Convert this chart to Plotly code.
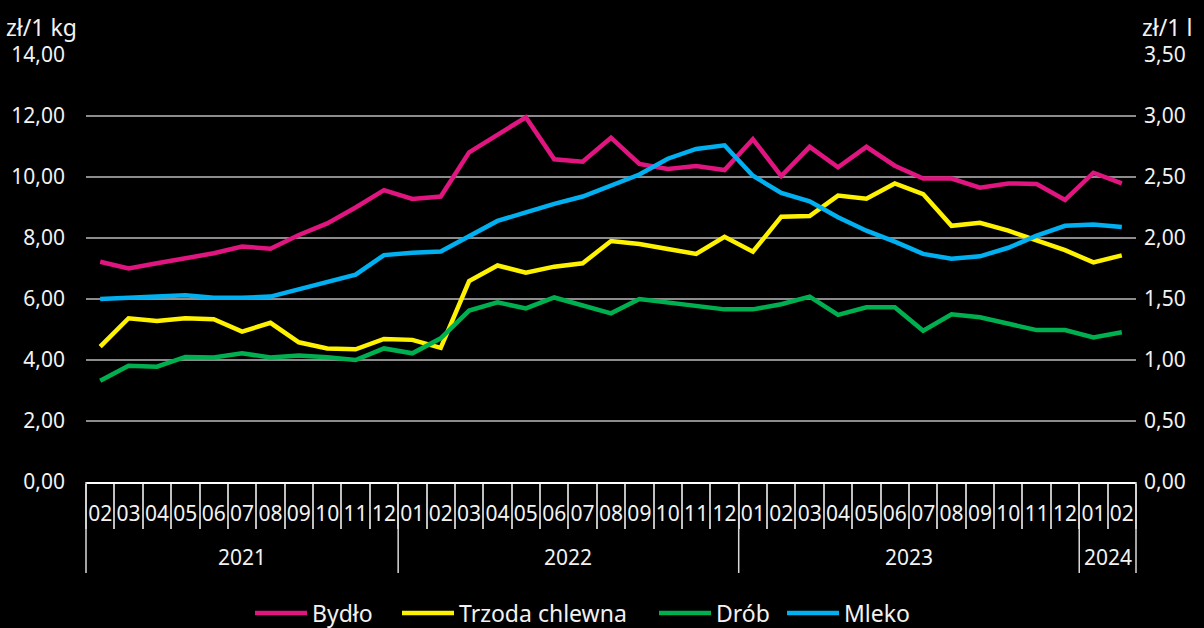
import plotly.graph_objects as go

years = ["2021"] * 11 + ["2022"] * 12 + ["2023"] * 12 + ["2024"] * 2
months = ["02", "03", "04", "05", "06", "07", "08", "09", "10", "11", "12",
          "01", "02", "03", "04", "05", "06", "07", "08", "09", "10", "11", "12",
          "01", "02", "03", "04", "05", "06", "07", "08", "09", "10", "11", "12",
          "01", "02"]

bydlo = [7.22, 7.00, 7.17, 7.33, 7.50, 7.72, 7.65, 8.10, 8.48, 9.00, 9.57,
         9.28, 9.36, 10.81, 11.38, 11.96, 10.58, 10.50, 11.29, 10.43, 10.26, 10.36, 10.23,
         11.24, 10.03, 10.99, 10.32, 10.99, 10.37, 9.95, 9.95, 9.65, 9.79, 9.77, 9.25,
         10.14, 9.79]

trzoda = [4.44, 5.37, 5.28, 5.37, 5.34, 4.93, 5.22, 4.58, 4.38, 4.35, 4.69,
          4.66, 4.40, 6.59, 7.10, 6.86, 7.06, 7.17, 7.90, 7.80, 7.64, 7.48, 8.04,
          7.55, 8.70, 8.72, 9.39, 9.29, 9.79, 9.44, 8.40, 8.50, 8.24, 7.93, 7.60,
          7.20, 7.43]

drob = [3.32, 3.81, 3.78, 4.10, 4.08, 4.22, 4.08, 4.15, 4.09, 4.00, 4.38,
        4.22, 4.71, 5.62, 5.89, 5.69, 6.05, 5.78, 5.53, 6.00, 5.89, 5.80, 5.66,
        5.66, 5.83, 6.08, 5.48, 5.73, 5.73, 4.96, 5.50, 5.40, 5.20, 4.98, 4.98,
        4.74, 4.91]

mleko = [1.50, 1.51, 1.52, 1.53, 1.51, 1.51, 1.52, 1.58, 1.64, 1.70, 1.86,
         1.88, 1.89, 2.01, 2.14, 2.21, 2.28, 2.34, 2.43, 2.52, 2.65, 2.73, 2.76,
         2.51, 2.37, 2.30, 2.17, 2.06, 1.97, 1.87, 1.83, 1.85, 1.92, 2.02, 2.10,
         2.11, 2.09]

left_ticks = [0, 2, 4, 6, 8, 10, 12, 14]
right_ticks = [0, 0.5, 1.0, 1.5, 2.0, 2.5, 3.0, 3.5]

n = len(months)
x = list(range(n))
W = 4.5
FONT = "Noto Sans"
TXT = "#F2F2F2"

# plot area geometry (pixels)
L, R, T, B = 86, 1136, 55, 482
PW, PH = R - L, B - T

fig = go.Figure()
series = [("Bydło", bydlo, "#E0157F", "y", "legend"),
          ("Trzoda chlewna", trzoda, "#FFF200", "y", "legend2"),
          ("Drób", drob, "#00B050", "y", "legend3"),
          ("Mleko", mleko, "#00B0F0", "y2", "legend4")]
for name, vals, col, ya, lg in series:
    fig.add_trace(go.Scatter(x=x, y=vals, name=name, mode="lines", yaxis=ya, legend=lg,
                             line=dict(color=col, width=W)))

# year group boundaries and centers
bounds = [-0.5]
for i in range(1, n):
    if years[i] != years[i - 1]:
        bounds.append(i - 0.5)
bounds.append(n - 0.5)

shapes = []
for b in bounds:
    xp = (b + 0.5) / n
    shapes.append(dict(type="line", xref="paper", yref="paper", x0=xp, x1=xp,
                       y0=0, y1=-(573 - B) / PH, line=dict(color="#D9D9D9", width=1.5)))

annotations = []
for k in range(len(bounds) - 1):
    c = (bounds[k] + bounds[k + 1]) / 2
    yr = years[int(bounds[k] + 0.5)]
    annotations.append(dict(text=yr, xref="x", yref="paper", x=c, y=-(557 - B) / PH,
                            xanchor="center", yanchor="middle", showarrow=False,
                            font=dict(size=21, color=TXT)))

annotations += [
    dict(text="zł/1 kg", xref="paper", yref="paper", x=(4 - L) / PW, y=(B - 27) / PH,
         xanchor="left", yanchor="middle", showarrow=False, font=dict(size=23, color=TXT)),
    dict(text="zł/1 l", xref="paper", yref="paper", x=(1140 - L) / PW, y=(B - 27) / PH,
         xanchor="left", yanchor="middle", showarrow=False, font=dict(size=23, color=TXT)),
]

leg_x = [250, 397, 654, 782]
legends = {}
for i, px in enumerate(leg_x):
    key = "legend" if i == 0 else f"legend{i + 1}"
    legends[key] = dict(xref="container", yref="container", x=px / 1204, y=(628 - 613) / 628,
                        xanchor="left", yanchor="middle", orientation="h",
                        font=dict(size=23, color=TXT), itemwidth=52,
                        bgcolor="rgba(0,0,0,0)")

fig.update_layout(
    width=1204, height=628,
    paper_bgcolor="black", plot_bgcolor="black",
    separators=", ",
    font=dict(family=FONT, color=TXT, size=21),
    margin=dict(l=L, r=1204 - R, t=T, b=628 - B, autoexpand=False),
    showlegend=True,
    xaxis=dict(
        range=[-0.5, n - 0.5], tickvals=x, ticktext=months, tickangle=0,
        showline=True, linecolor="white", linewidth=2,
        ticks="", showgrid=False, zeroline=False, automargin=False,
        minor=dict(tick0=-0.5, dtick=1, ticks="outside", ticklen=45,
                   tickcolor="#BFBFBF", tickwidth=1.5, showgrid=False),
        tickfont=dict(size=21, color=TXT), ticklabelstandoff=12,
    ),
    yaxis=dict(
        range=[0, 14], tickvals=left_ticks, tickformat=".2f",
        showgrid=True, gridcolor="#8C8C8C", gridwidth=1.5,
        zeroline=False, showline=False, automargin=False,
        tickfont=dict(size=21, color=TXT), ticklabelstandoff=20,
    ),
    yaxis2=dict(
        range=[0, 3.5], tickvals=right_ticks, tickformat=".2f",
        overlaying="y", side="right", showgrid=False, zeroline=False, showline=False,
        automargin=False,
        tickfont=dict(size=21, color=TXT), ticklabelstandoff=7,
    ),
    shapes=shapes,
    annotations=annotations,
    **legends,
)

fig.write_html("out.html", config={"displayModeBar": False},
               post_script="document.body.style.margin='0';document.body.style.background='black';")
